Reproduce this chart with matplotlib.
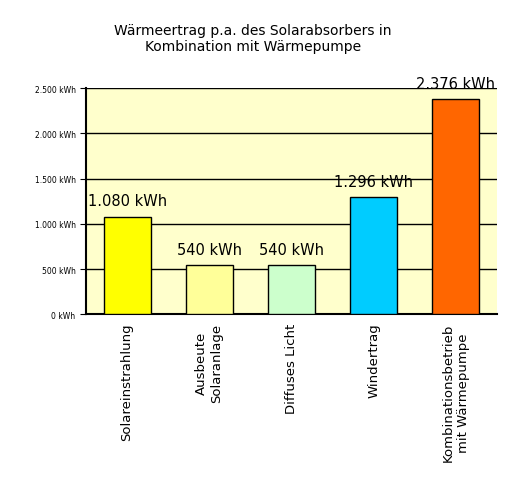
import matplotlib.pyplot as plt
from matplotlib.ticker import FuncFormatter

categories = ["Solareinstrahlung", "Ausbeute\nSolaranlage", "Diffuses Licht",
              "Windertrag", "Kombinationsbetrieb\nmit Wärmepumpe"]
values = [1080, 540, 540, 1296, 2376]
labels = ["1.080 kWh", "540 kWh", "540 kWh", "1.296 kWh", "2.376 kWh"]
colors = ["#ffff00", "#ffff99", "#ccffcc", "#00ccff", "#ff6600"]

fig = plt.figure(figsize=(5.06, 4.85), dpi=100)
ax = fig.add_axes([0.170, 0.350, 0.812, 0.466])
ax.set_facecolor("#ffffcc")
x = range(len(values))
ax.bar(x, values, width=0.57, color=colors, edgecolor="black", linewidth=1, zorder=3)
for i, (v, t) in enumerate(zip(values, labels)):
    ax.text(i, v + 90, t, ha="center", va="bottom", fontsize=10.5, zorder=4)
ax.set_xlim(-0.5, 4.5)
ax.set_ylim(0, 2500)
ax.set_yticks(range(0, 2501, 500))
ax.yaxis.set_major_formatter(FuncFormatter(lambda v, p: f"{int(v):,}".replace(",", ".") + " kWh"))
ax.tick_params(axis="y", labelsize=5.5, length=4)
ax.grid(axis="y", color="black", linewidth=1, zorder=1)
ax.set_xticks(list(x))
ax.set_xticklabels(categories, rotation=90, fontsize=9.5, linespacing=1.2)
ax.tick_params(axis="x", length=0, pad=6)
for s in ["top", "right"]:
    ax.spines[s].set_visible(False)
ax.spines["left"].set_linewidth(1.5)
ax.spines["bottom"].set_linewidth(1.5)
fig.text(0.5, 0.92, "Wärmeertrag p.a. des Solarabsorbers in\nKombination mit Wärmepumpe",
         ha="center", va="center", fontsize=10, linespacing=1.2)
fig.savefig("out.png", dpi=100)
